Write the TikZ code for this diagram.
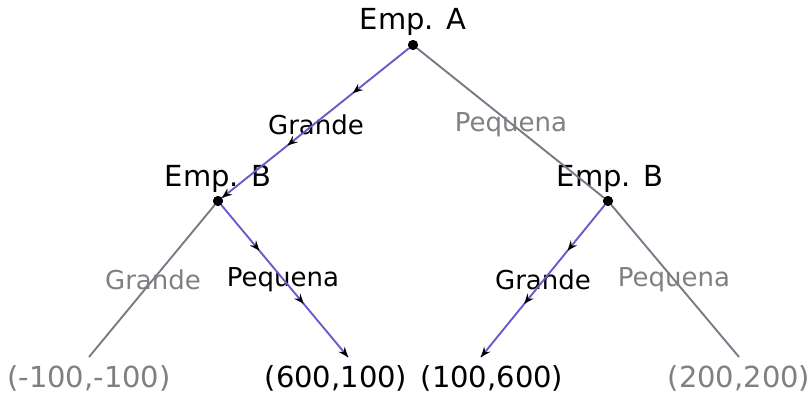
\documentclass[tikz,border=0pt]{standalone}
\usepackage{fontspec}
\setmainfont{DejaVu Sans}
\usetikzlibrary{decorations.markings,arrows.meta}
\definecolor{pur}{RGB}{106,90,205}
\definecolor{gln}{RGB}{122,122,135}
\definecolor{gtx}{RGB}{128,128,128}
\tikzset{
  dot/.style={circle,fill=black,inner sep=0pt,minimum size=10pt},
  lbl/.style={inner sep=0pt,font=\fontsize{26}{30}\selectfont,anchor=base},
  glbl/.style={lbl,text=gtx},
  big/.style={inner sep=0pt,font=\fontsize{29}{34}\selectfont,anchor=base},
  gedge/.style={draw=gln,line width=1.9pt},
  pedge/.style={draw=pur,line width=1.9pt,
    postaction={decorate,decoration={markings,
      mark=at position 0.3 with {\arrow{Stealth[black,length=10pt,width=8pt,inset=3.5pt]}},
      mark=at position 0.65 with {\arrow{Stealth[black,length=10pt,width=8pt,inset=3.5pt]}},
      mark=at position 1 with {\arrow{Stealth[black,length=10pt,width=8pt,inset=3.5pt]}}}}}
}
\begin{document}
\begin{tikzpicture}[x=1pt,y=-1pt]
\useasboundingbox (0,0) rectangle (812,394);
% labels
\node[big] (tA) at (413,29) {Emp. A};
\node[big] (tB1) at (218,186) {Emp. B};
\node[big] (tB2) at (610,186) {Emp. B};
\node[lbl] (e1) at (316,134) {Grande};
\node[glbl] (e2) at (511,131) {Pequena};
\node[glbl] (e3) at (153,289) {Grande};
\node[lbl] (e4) at (283,286) {Pequena};
\node[lbl] (e5) at (543,289) {Grande};
\node[glbl] (e6) at (674,286) {Pequena};
\node[big,text=gtx] (p1) at (89,387) {(-100,-100)};
\node[big] (p2) at (336,387) {(600,100)};
\node[big] (p3) at (492,387) {(100,600)};
\node[big,text=gtx] (p4) at (739,387) {(200,200)};
% tree
\node[dot] (A) at (413,45) {};
\node[dot] (B1) at (218,201) {};
\node[dot] (B2) at (608,201) {};
\coordinate (L1) at (89,357);
\coordinate (L2) at (348,357);
\coordinate (L3) at (481,357);
\coordinate (L4) at (739,357);
\draw[gedge] (A) -- (B2);
\draw[gedge] (B1) -- (L1);
\draw[gedge] (B2) -- (L4);
\draw[pedge] (A) -- (B1);
\draw[pedge] (B1) -- (L2);
\draw[pedge] (B2) -- (L3);
\node[dot] at (A) {};
\node[dot] at (B1) {};
\node[dot] at (B2) {};
\end{tikzpicture}
\end{document}
